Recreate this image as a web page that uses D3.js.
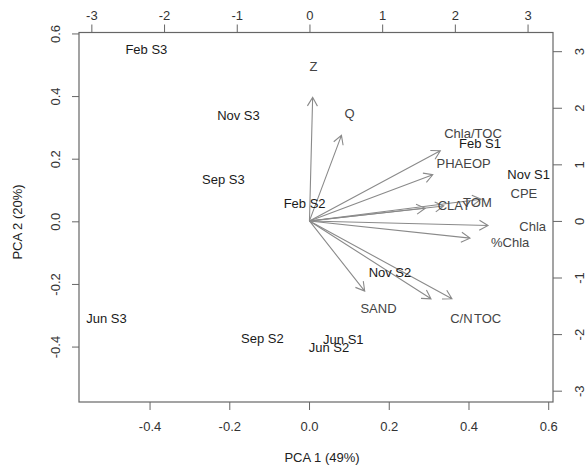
<!DOCTYPE html>
<html>
<head>
<meta charset="utf-8">
<script src="https://cdn.jsdelivr.net/npm/d3@7"></script>
<style>
  body { margin: 0; background: #fff; }
  text { font-family: "Liberation Sans", Arial, sans-serif; }
</style>
</head>
<body>
<div id="biplot_container"></div>
<script>
// sample scores (PCA 1, PCA 2)
const sample_names = ["Feb S3", "Nov S3", "Sep S3", "Feb S2", "Jun S3", "Sep S2", "Jun S1", "Jun S2", "Nov S2", "Feb S1", "Nov S1"];
const sample_pc1 = [-0.408, -0.177, -0.215, -0.011, -0.508, -0.117, 0.086, 0.050, 0.203, 0.429, 0.551];
const sample_pc2 = [0.550, 0.338, 0.135, 0.056, -0.309, -0.373, -0.376, -0.402, -0.163, 0.250, 0.148];

// variable loadings (top / right axes)
const var_names = ["Z", "Q", "Chla/TOC", "PHAEOP", "CLAY", "TOM", "CPE", "Chla", "%Chla", "SAND", "C/N", "TOC"];
const var_pc1 = [0.055, 0.55, 2.25, 2.12, 1.99, 2.31, 2.95, 3.07, 2.76, 0.95, 2.09, 2.45];
const var_pc2 = [2.73, 1.89, 1.55, 1.02, 0.28, 0.33, 0.48, -0.10, -0.38, -1.55, -1.72, -1.72];

const bottom_ticks = [-0.4, -0.2, 0.0, 0.2, 0.4, 0.6];
const left_ticks = [-0.4, -0.2, 0.0, 0.2, 0.4, 0.6];
const top_ticks = [-3, -2, -1, 0, 1, 2, 3];
const right_ticks = [-3, -2, -1, 0, 1, 2, 3];

const width = 586, height = 466;
const box = { left: 79, right: 553, top: 32.5, bottom: 402 };

const svg = d3.select("#biplot_container")
    .append("svg")
    .attr("width", width)
    .attr("height", height);

// scales for scores and loadings
const x = d3.scaleLinear().domain([-0.577, 0.612]).range([box.left, box.right]);
const y = d3.scaleLinear().domain([-0.577, 0.603]).range([box.bottom, box.top]);
const xl = d3.scaleLinear().domain([-3.17, 3.35]).range([box.left, box.right]);
const yl = d3.scaleLinear().domain([-3.20, 3.33]).range([box.bottom, box.top]);

const axis_color = "#666";

function styleAxis(g) {
    g.select(".domain").remove();
    g.selectAll("line").attr("stroke", axis_color);
    g.selectAll("text")
        .attr("fill", "#333")
        .style("font-size", "13px");
}

// bottom axis
svg.append("g")
    .attr("transform", `translate(0, ${box.bottom})`)
    .call(d3.axisBottom(x).tickValues(bottom_ticks).tickSize(8).tickPadding(12)
        .tickFormat(d => d.toFixed(1)))
    .call(styleAxis);

// left axis, labels parallel to axis
svg.append("g")
    .attr("transform", `translate(${box.left}, 0)`)
    .call(d3.axisLeft(y).tickValues(left_ticks).tickSize(7)
        .tickFormat(d => d.toFixed(1)))
    .call(styleAxis)
    .selectAll(".tick text")
    .attr("x", 0)
    .attr("dy", null)
    .attr("transform", "translate(-24,0) rotate(-90)")
    .attr("text-anchor", "middle")
    .attr("dominant-baseline", "central");

// top axis
svg.append("g")
    .attr("transform", `translate(0, ${box.top})`)
    .call(d3.axisTop(xl).tickValues(top_ticks).tickSize(8).tickPadding(5)
        .tickFormat(d => String(d)))
    .call(styleAxis);

// right axis
svg.append("g")
    .attr("transform", `translate(${box.right}, 0)`)
    .call(d3.axisRight(yl).tickValues(right_ticks).tickSize(9)
        .tickFormat(d => String(d)))
    .call(styleAxis)
    .selectAll(".tick text")
    .attr("x", 0)
    .attr("dy", null)
    .attr("transform", "translate(26,0) rotate(-90)")
    .attr("text-anchor", "middle")
    .attr("dominant-baseline", "central");

// frame
svg.append("rect")
    .attr("x", box.left)
    .attr("y", box.top)
    .attr("width", box.right - box.left)
    .attr("height", box.bottom - box.top)
    .attr("fill", "none")
    .attr("stroke", axis_color)
    .attr("stroke-width", 1.2);

// axis titles
svg.append("text")
    .attr("x", 322)
    .attr("y", 457)
    .attr("text-anchor", "middle")
    .attr("dominant-baseline", "central")
    .attr("fill", "#222")
    .style("font-size", "13px")
    .text("PCA 1 (49%)");

svg.append("text")
    .attr("transform", "translate(17, 222) rotate(-90)")
    .attr("text-anchor", "middle")
    .attr("dominant-baseline", "central")
    .attr("fill", "#222")
    .style("font-size", "13px")
    .text("PCA 2 (20%)");

// variable arrows: shaft to 0.8 of the loading, open head
const vars = var_names.map((name, i) => ({ name: name, pc1: var_pc1[i], pc2: var_pc2[i] }));
const head_len = 10, head_angle = Math.PI / 6;

svg.append("g")
    .selectAll("path")
    .data(vars)
    .enter()
    .append("path")
    .attr("d", d => {
        const x0 = xl(0), y0 = yl(0);
        const x1 = xl(d.pc1 * 0.8), y1 = yl(d.pc2 * 0.8);
        const a = Math.atan2(y1 - y0, x1 - x0);
        const hx1 = x1 - head_len * Math.cos(a - head_angle), hy1 = y1 - head_len * Math.sin(a - head_angle);
        const hx2 = x1 - head_len * Math.cos(a + head_angle), hy2 = y1 - head_len * Math.sin(a + head_angle);
        return `M${x0},${y0}L${x1},${y1}M${hx1},${hy1}L${x1},${y1}L${hx2},${hy2}`;
    })
    .attr("fill", "none")
    .attr("stroke", "#8a8a8a")
    .attr("stroke-width", 1.1);

svg.append("g")
    .selectAll("text")
    .data(vars)
    .enter()
    .append("text")
    .attr("x", d => xl(d.pc1))
    .attr("y", d => yl(d.pc2))
    .attr("text-anchor", "middle")
    .attr("dominant-baseline", "central")
    .attr("fill", "#444")
    .style("font-size", "13px")
    .text(d => d.name);

// sample labels
const samples = sample_names.map((name, i) => ({ name: name, pc1: sample_pc1[i], pc2: sample_pc2[i] }));

svg.append("g")
    .selectAll("text")
    .data(samples)
    .enter()
    .append("text")
    .attr("x", d => x(d.pc1))
    .attr("y", d => y(d.pc2))
    .attr("text-anchor", "middle")
    .attr("dominant-baseline", "central")
    .attr("fill", "#1a1a1a")
    .style("font-size", "13px")
    .text(d => d.name);
</script>
</body>
</html>
